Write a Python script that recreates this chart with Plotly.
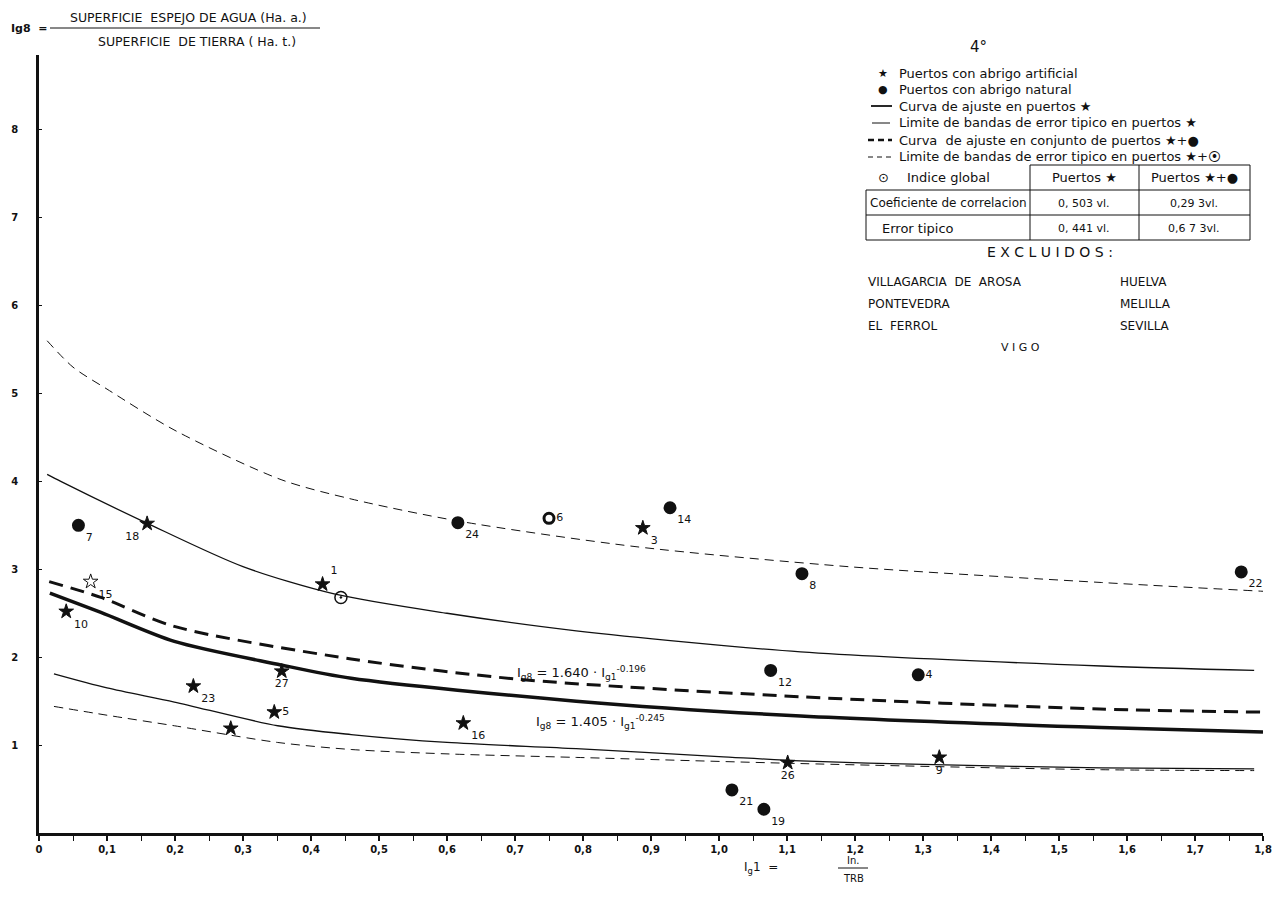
import plotly.graph_objects as go

# ---------------- data ----------------
# Ports with artificial shelter (stars)
star_x = [0.159, 0.417, 0.076, 0.040, 0.357, 0.227, 0.346, 0.282, 0.624, 0.888, 1.101, 1.324]
star_y = [3.52, 2.83, 2.86, 2.52, 1.84, 1.67, 1.375, 1.19, 1.25, 3.47, 0.80, 0.86]
star_lab = ["18", "1", "15", "10", "27", "23", "5", "", "16", "3", "26", "9"]

# Ports with natural shelter (dots)
dot_x = [0.058, 0.616, 0.750, 0.928, 1.122, 1.076, 1.293, 1.019, 1.066, 1.768]
dot_y = [3.50, 3.53, 3.58, 3.70, 2.95, 1.85, 1.80, 0.49, 0.27, 2.97]
dot_lab = ["7", "24", "6", "14", "8", "12", "4", "21", "19", "22"]

# Global index
glob_x = [0.444]
glob_y = [2.68]

# Fit curve, ports with artificial shelter
fitA_x = [0.016, 0.091, 0.199, 0.351, 0.459, 0.79, 1.12, 1.562, 1.80]
fitA_y = [2.73, 2.51, 2.18, 1.92, 1.76, 1.50, 1.33, 1.20, 1.15]
# Error bands, artificial ports
upA_x = [0.012, 0.032, 0.16, 0.30, 0.434, 0.60, 0.79, 1.12, 1.562, 1.787]
upA_y = [4.08, 4.00, 3.52, 3.03, 2.72, 2.50, 2.30, 2.06, 1.90, 1.85]
loA_x = [0.022, 0.10, 0.199, 0.351, 0.459, 0.60, 0.79, 1.00, 1.12, 1.30, 1.562, 1.787]
loA_y = [1.81, 1.65, 1.49, 1.22, 1.12, 1.03, 0.96, 0.87, 0.82, 0.78, 0.74, 0.73]

# Fit curve, all ports
fitB_x = [0.015, 0.091, 0.199, 0.459, 0.704, 1.12, 1.56, 1.80]
fitB_y = [2.86, 2.68, 2.35, 1.98, 1.75, 1.55, 1.41, 1.375]
# Error bands, all ports
upB_x = [0.012, 0.05, 0.10, 0.20, 0.356, 0.459, 0.616, 0.875, 1.19, 1.562, 1.80]
upB_y = [5.60, 5.30, 5.05, 4.58, 4.02, 3.80, 3.55, 3.26, 3.03, 2.85, 2.75]
loB_x = [0.022, 0.10, 0.199, 0.351, 0.459, 0.60, 0.79, 1.12, 1.562, 1.787]
loB_y = [1.44, 1.34, 1.22, 1.03, 0.95, 0.90, 0.86, 0.79, 0.72, 0.71]

x_ticks = [0, 0.1, 0.2, 0.3, 0.4, 0.5, 0.6, 0.7, 0.8, 0.9, 1.0, 1.1, 1.2, 1.3, 1.4, 1.5, 1.6, 1.7, 1.8]
x_ticktext = ["0", "0,1", "0,2", "0,3", "0,4", "0,5", "0,6", "0,7", "0,8", "0,9", "1,0", "1,1",
              "1,2", "1,3", "1,4", "1,5", "1,6", "1,7", "1,8"]
y_ticks = [1, 2, 3, 4, 5, 6, 7, 8]
y_ticktext = ["1", "2", "3", "4", "5", "6", "7", "8"]

# ---------------- styles ----------------
star_symbols = ["star", "star", "star-open", "star", "star", "star", "star", "star", "star", "star", "star", "star"]
star_textpos = ["bottom left", "top right", "bottom right", "bottom right", "bottom center", "bottom right",
                "middle right", "bottom right", "bottom right", "bottom right", "bottom center", "bottom center"]
dot_symbols = ["circle", "circle", "circle-open", "circle", "circle", "circle", "circle", "circle", "circle", "circle"]
dot_textpos = ["bottom right", "bottom right", "middle right", "bottom right", "bottom right", "bottom right",
               "middle right", "bottom right", "bottom right", "bottom right"]

FONT = "DejaVu Sans"
INK = "#111111"

fig = go.Figure()

def curve(xs, ys, width, dash):
    fig.add_trace(go.Scatter(x=xs, y=ys, mode="lines",
                             line=dict(color=INK, width=width, dash=dash, shape="spline", smoothing=0.8),
                             hoverinfo="skip", showlegend=False))

curve(upB_x, upB_y, 1.0, "9px,6px")
curve(loB_x, loB_y, 1.0, "9px,6px")
curve(upA_x, upA_y, 1.3, "solid")
curve(loA_x, loA_y, 1.3, "solid")
curve(fitB_x, fitB_y, 3.0, "14px,8px")
curve(fitA_x, fitA_y, 3.5, "solid")

fig.add_trace(go.Scatter(x=star_x, y=star_y, mode="markers+text", text=star_lab,
                         textposition=star_textpos,
                         textfont=dict(family=FONT, size=11, color=INK),
                         marker=dict(symbol=star_symbols, size=11, color=INK,
                                     line=dict(color=INK, width=1)),
                         showlegend=False))
fig.add_trace(go.Scatter(x=dot_x, y=dot_y, mode="markers+text", text=dot_lab,
                         textposition=dot_textpos,
                         textfont=dict(family=FONT, size=11, color=INK),
                         marker=dict(symbol=dot_symbols, size=10, color=INK,
                                     line=dict(color=INK, width=3)),
                         showlegend=False))
fig.add_trace(go.Scatter(x=glob_x, y=glob_y, mode="markers",
                         marker=dict(symbol="circle-open-dot", size=12, color=INK,
                                     line=dict(color=INK, width=1.5)),
                         showlegend=False))

# ---------------- layout helpers (reference page pixel -> paper) ----------------
OFF = 8                      # default page body margin
W, H = 1281 - 2 * OFF, 897 - 2 * OFF
PLOT_L, PLOT_R, PLOT_T, PLOT_B = 39, 1263, 55, 833     # plot area in page pixels
L, T = PLOT_L - OFF, PLOT_T - OFF
R, B = W - (PLOT_R - OFF), H - (PLOT_B - OFF)
PW, PH = W - L - R, H - T - B

def px(p):
    return (p - PLOT_L) / PW

def py(p):
    return (PLOT_B - p) / PH

annos = []
shapes = []

def text(x, y, s, size=12, xanchor="left", weight="normal"):
    annos.append(dict(x=px(x), y=py(y), xref="paper", yref="paper", text=s, showarrow=False,
                      xanchor=xanchor, yanchor="middle",
                      font=dict(family=FONT, size=size, color=INK, weight=weight)))

def hline(x0, x1, y, width=1.0, dash="solid"):
    shapes.append(dict(type="line", xref="paper", yref="paper", x0=px(x0), x1=px(x1),
                       y0=py(y), y1=py(y), line=dict(color=INK, width=width, dash=dash)))

def vline(x, y0, y1, width=1.0):
    shapes.append(dict(type="line", xref="paper", yref="paper", x0=px(x), x1=px(x),
                       y0=py(y0), y1=py(y1), line=dict(color=INK, width=width)))

# top-left ordinate definition
text(9, 28, "Ig8  =", size=11, weight="bold")
text(188, 17, "SUPERFICIE  ESPEJO DE AGUA (Ha. a.)", size=12.5, xanchor="center")
hline(50, 320, 28, width=1.0)
text(197, 42, "SUPERFICIE  DE TIERRA ( Ha. t.)", size=12.5, xanchor="center")

# x-axis definition
text(742, 868, "I<sub>g</sub>1  =", size=12)
text(853, 861, "In.", size=10, xanchor="center")
hline(838, 868, 868, width=1.0)
text(853, 878, "TRB", size=10, xanchor="center")

# legend
text(978, 47, "4°", size=15, xanchor="center")
text(883, 73, "★", size=11, xanchor="center")
text(897, 73, "Puertos con abrigo artificial", size=13)
text(883, 89, "●", size=11, xanchor="center")
text(897, 89, "Puertos con abrigo natural", size=13)
hline(871, 892, 106, width=1.8)
text(897, 106, "Curva de ajuste en puertos ★", size=13)
hline(872, 890, 123, width=1.0)
text(897, 123, "Limite de bandas de error tipico en puertos ★", size=13)
hline(868, 892, 140, width=2.5, dash="6px,4px")
text(897, 140, "Curva  de ajuste en conjunto de puertos ★+●", size=13)
hline(868, 892, 157, width=1.0, dash="5px,4px")
text(897, 157, "Limite de bandas de error tipico en puertos ★+⦿", size=13)
text(883, 177, "⊙", size=13, xanchor="center")
text(905, 177, "Indice global", size=13)

# table
hline(1030, 1250, 165)
hline(866, 1250, 190)
hline(866, 1250, 215)
hline(866, 1250, 240)
vline(866, 190, 240)
vline(1030, 165, 240)
vline(1139, 165, 240)
vline(1250, 165, 240)
text(1084, 177, "Puertos ★", size=13, xanchor="center")
text(1194, 177, "Puertos ★+●", size=13, xanchor="center")
text(948, 203, "Coeficiente de correlacion", size=12, xanchor="center")
text(1084, 203, "0, 503 vl.", size=11, xanchor="center")
text(1194, 203, "0,29 3vl.", size=11, xanchor="center")
text(880, 228, "Error tipico", size=13)
text(1084, 228, "0, 441 vl.", size=11, xanchor="center")
text(1194, 228, "0,6 7 3vl.", size=11, xanchor="center")

text(1050, 252, "E X C L U I D O S :", size=14, xanchor="center")
text(866, 282, "VILLAGARCIA  DE  AROSA", size=12)
text(1118, 282, "HUELVA", size=12)
text(866, 304, "PONTEVEDRA", size=12)
text(1118, 304, "MELILLA", size=12)
text(866, 326, "EL  FERROL", size=12)
text(1118, 326, "SEVILLA", size=12)
text(1020, 347, "V I G O", size=11, xanchor="center")

# fitted equations
text(515, 673, "I<sub>g8</sub> = 1.640 · I<sub>g1</sub><sup>-0.196</sup>", size=13)
text(534, 722, "I<sub>g8</sub> = 1.405 · I<sub>g1</sub><sup>-0.245</sup>", size=13)

fig.update_layout(
    width=W, height=H,
    margin=dict(l=L, r=R, t=T, b=B, pad=0, autoexpand=False),
    paper_bgcolor="white", plot_bgcolor="white",
    showlegend=False,
    annotations=annos, shapes=shapes,
    xaxis=dict(range=[0, 1.8], showgrid=False, zeroline=False, automargin=False,
               showline=True, linecolor=INK, linewidth=2.5,
               tickmode="array", tickvals=x_ticks, ticktext=x_ticktext,
               ticks="outside", ticklen=5, tickwidth=1.5, tickcolor=INK,
               minor=dict(dtick=0.05, tick0=0, ticks="outside", ticklen=5, tickwidth=1.2, tickcolor=INK),
               tickfont=dict(family=FONT, size=10, color=INK, weight="bold")),
    yaxis=dict(range=[0, (PLOT_B - PLOT_T) / 87.9], showgrid=False, zeroline=False, automargin=False,
               showline=True, linecolor=INK, linewidth=2.5,
               tickmode="array", tickvals=y_ticks, ticktext=y_ticktext,
               ticks="inside", ticklen=3, tickwidth=1, tickcolor=INK,
               ticklabelstandoff=16,
               tickfont=dict(family=FONT, size=10, color=INK, weight="bold")),
)

fig.write_html("out.html")
